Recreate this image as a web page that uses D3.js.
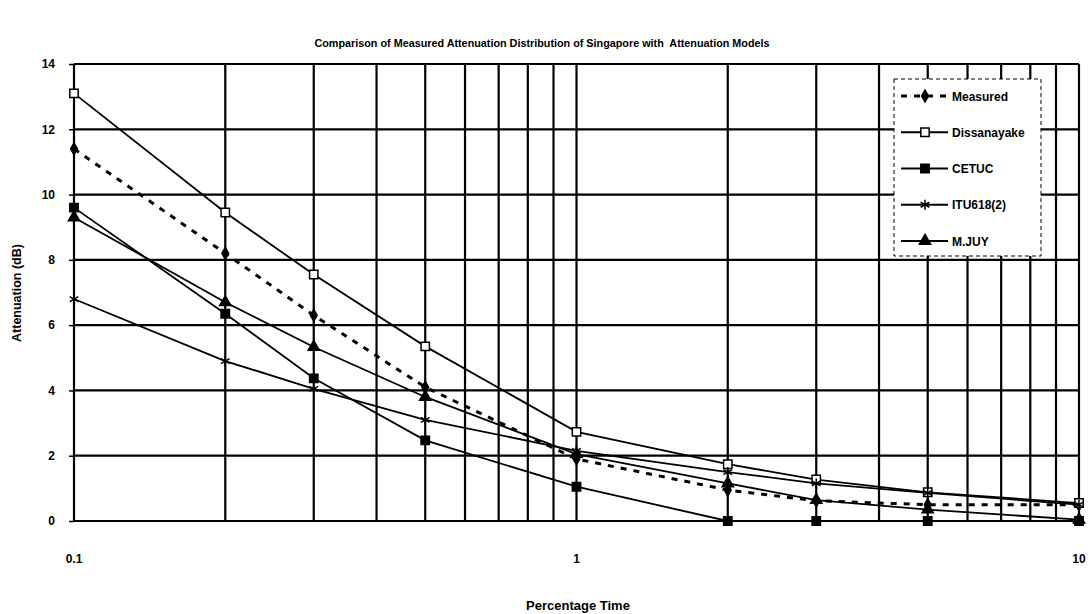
<!DOCTYPE html>
<html>
<head>
<meta charset="utf-8">
<script src="https://cdn.jsdelivr.net/npm/d3@7"></script>
<style>
body{margin:0;background:#fff}
text{font-family:"Liberation Sans",Arial,sans-serif;font-weight:bold;fill:#000}
</style>
</head>
<body>
<svg id="chart" width="1089" height="614"></svg>
<script>
// percentage of time (x) and attenuation in dB per model
const percent = [0.1, 0.2, 0.3, 0.5, 1, 2, 3, 5, 10];
const measured = [11.4, 8.2, 6.3, 4.1, 1.9, 0.95, 0.62, 0.5, 0.5];
const dissanayake = [13.1, 9.45, 7.55, 5.35, 2.73, 1.74, 1.27, 0.88, 0.55];
const cetuc = [9.6, 6.35, 4.37, 2.47, 1.05, 0, 0, 0, 0];
const itu618 = [6.8, 4.9, 4.05, 3.1, 2.15, 1.5, 1.15, 0.86, 0.5];
const mjuy = [9.3, 6.7, 5.33, 3.8, 2.05, 1.15, 0.64, 0.35, 0.04];
const seriesNames = ["Measured", "Dissanayake", "CETUC", "ITU618(2)", "M.JUY"];
const yTicks = [0, 2, 4, 6, 8, 10, 12, 14];
const xLabels = [0.1, 1, 10];

const title = "Comparison of Measured Attenuation Distribution of Singapore with  Attenuation Models";

const svg = d3.select("#chart");
const pLeft = 74, pRight = 1079, pTop = 64, pBottom = 521;

const x = d3.scaleLog().domain([0.1, 10]).range([pLeft, pRight]);
const y = d3.scaleLinear().domain([0, 14]).range([pBottom, pTop]);

// title
svg.append("text")
	.attr("x", 542).attr("y", 47)
	.attr("text-anchor", "middle")
	.style("font-size", "10.8px")
	.style("white-space", "pre")
	.text(title);

// grid
const grid = svg.append("g");
grid.selectAll(".vg").data(x.ticks()).join("line")
	.attr("x1", d => x(d)).attr("x2", d => x(d))
	.attr("y1", pTop).attr("y2", pBottom)
	.attr("stroke", "#000").attr("stroke-width", 2.2);
grid.selectAll(".hg").data(yTicks).join("line")
	.attr("x1", pLeft).attr("x2", pRight)
	.attr("y1", d => y(d)).attr("y2", d => y(d))
	.attr("stroke", "#000").attr("stroke-width", 2.2);

// y axis
const yAxis = svg.append("g")
	.attr("transform", "translate(" + pLeft + ",0)")
	.call(d3.axisLeft(y).tickValues(yTicks).tickSize(5).tickPadding(14));
yAxis.select(".domain").remove();
yAxis.selectAll("line").attr("stroke-width", 1.5);
yAxis.selectAll("text").style("font-size", "12px").attr("font-family", null);

// x labels
svg.selectAll(".xl").data(xLabels).join("text")
	.attr("x", d => x(d)).attr("y", 563)
	.attr("text-anchor", "middle")
	.style("font-size", "12px")
	.text(d => d);

svg.append("text")
	.attr("x", 578).attr("y", 610)
	.attr("text-anchor", "middle")
	.style("font-size", "13px")
	.text("Percentage Time");

svg.append("text")
	.attr("transform", "translate(21,293) rotate(-90)")
	.attr("text-anchor", "middle")
	.style("font-size", "12.5px")
	.text("Attenuation (dB)");

// series
const all = [measured, dissanayake, cetuc, itu618, mjuy];
const styles = [
	{dash: "6,7", width: 3, sym: d3.symbolDiamond, size: 40, fill: "#000"},
	{dash: null, width: 1.8, sym: d3.symbolSquare, size: 70, fill: "#fff"},
	{dash: null, width: 1.8, sym: d3.symbolSquare, size: 70, fill: "#000"},
	{dash: null, width: 1.8, sym: d3.symbolAsterisk, size: 70, fill: "none"},
	{dash: null, width: 1.8, sym: d3.symbolTriangle, size: 55, fill: "#000"}
];

const line = d3.line().x((d, i) => x(percent[i])).y(d => y(d));

all.forEach((vals, k) => {
	const st = styles[k];
	svg.append("path")
		.datum(vals)
		.attr("d", line)
		.attr("fill", "none")
		.attr("stroke", "#000")
		.attr("stroke-width", st.width)
		.attr("stroke-dasharray", st.dash);
	svg.append("g").selectAll("path").data(vals).join("path")
		.attr("transform", (d, i) => "translate(" + x(percent[i]) + "," + y(d) + ")")
		.attr("d", d3.symbol().type(st.sym).size(st.size))
		.attr("fill", st.fill)
		.attr("stroke", "#000")
		.attr("stroke-width", 1.5);
});

// legend
const lg = svg.append("g");
lg.append("rect")
	.attr("x", 894).attr("y", 79).attr("width", 147).attr("height", 177)
	.attr("fill", "#fff").attr("stroke", "#000")
	.attr("stroke-width", 1).attr("stroke-dasharray", "4,3");
const ly = d3.scalePoint().domain(seriesNames).range([96, 241]);
seriesNames.forEach((name, k) => {
	const st = styles[k];
	const yy = ly(name);
	lg.append("line")
		.attr("x1", 901).attr("x2", 948).attr("y1", yy).attr("y2", yy)
		.attr("stroke", "#000").attr("stroke-width", st.width)
		.attr("stroke-dasharray", st.dash);
	lg.append("path")
		.attr("transform", "translate(925," + yy + ")")
		.attr("d", d3.symbol().type(st.sym).size(st.size))
		.attr("fill", st.fill).attr("stroke", "#000").attr("stroke-width", 1.5);
	lg.append("text")
		.attr("x", 952).attr("y", yy + 4.5)
		.style("font-size", "12px")
		.text(name);
});
</script>
</body>
</html>
